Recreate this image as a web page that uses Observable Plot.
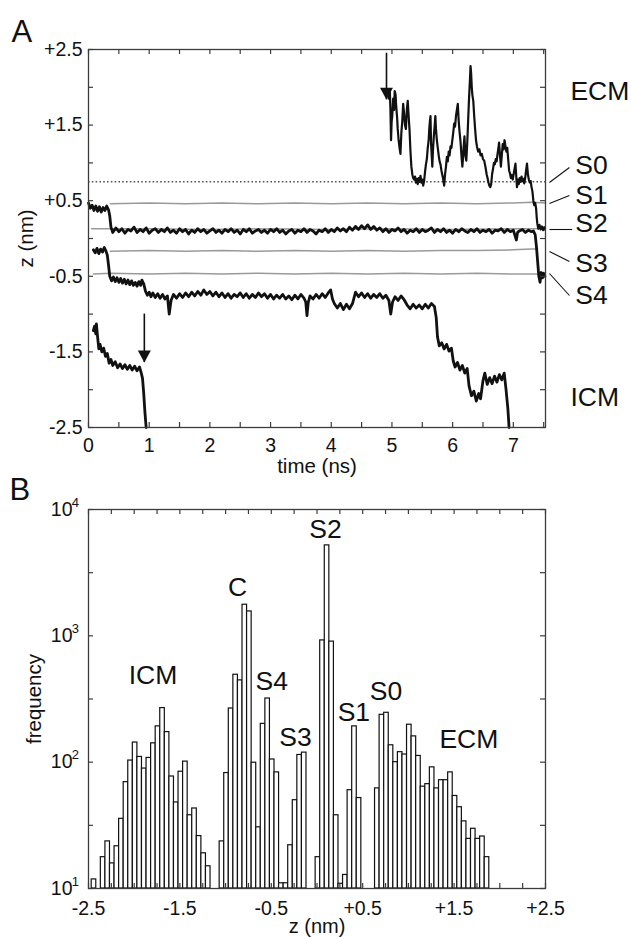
<!DOCTYPE html>
<html><head><meta charset="utf-8">
<script src="https://cdn.jsdelivr.net/npm/d3@7"></script>
<script src="https://cdn.jsdelivr.net/npm/@observablehq/plot@0.6"></script>
<style>
html,body{margin:0;padding:0;background:#fff;}
#wrap{position:relative;width:633px;height:937px;}
#wrap svg{position:absolute;left:0;overflow:visible;}
</style></head><body><div id="wrap"></div>
<script>
// ---------------- Panel A data ----------------
const aXTickValues = [0,1,2,3,4,5,6,7];
const aXMinorTicks = [0,0.5,1,1.5,2,2.5,3,3.5,4,4.5,5,5.5,6,6.5,7,7.5];
const aYTickValues = [2.5,1.5,0.5,-0.5,-1.5,-2.5];
const aYTickLabels = ["+2.5","+1.5","+0.5","-0.5","-1.5","-2.5"];
const aYMinorTicks = [2.5,2,1.5,1,0.5,0,-0.5,-1,-1.5,-2,-2.5];

// ion entering from the extracellular side (arrow at 4.9 ns)
const traceECM = [[4.95,1.85],[4.965,1.96],[4.975,1.70],[4.985,1.30],[4.995,1.55],[5.005,1.62],[5.02,1.85],[5.035,1.70],[5.045,1.95],[5.06,1.90],[5.07,1.75],[5.085,1.60],[5.095,1.45],[5.11,1.30],[5.125,1.20],[5.14,1.12],[5.155,1.40],[5.17,1.55],[5.185,1.78],[5.20,1.65],[5.215,1.50],[5.23,1.45],[5.245,1.70],[5.26,1.82],[5.275,1.62],[5.29,1.43],[5.305,1.15],[5.32,0.95],[5.335,0.85],[5.35,0.80],[5.365,0.78],[5.38,0.82],[5.395,0.74],[5.41,0.79],[5.425,0.72],[5.44,0.80],[5.455,0.75],[5.47,0.83],[5.485,0.74],[5.50,0.78],[5.515,0.70],[5.53,0.76],[5.545,0.88],[5.56,0.98],[5.575,1.05],[5.59,1.20],[5.605,1.30],[5.615,1.45],[5.625,1.55],[5.635,1.62],[5.645,1.25],[5.655,1.10],[5.665,0.95],[5.675,1.15],[5.69,1.35],[5.705,1.50],[5.715,1.62],[5.725,1.45],[5.74,1.30],[5.755,1.20],[5.77,1.10],[5.785,1.02],[5.80,0.98],[5.815,0.90],[5.83,0.84],[5.845,0.78],[5.86,0.70],[5.875,0.85],[5.89,0.95],[5.905,1.08],[5.92,1.02],[5.935,1.15],[5.95,1.10],[5.965,1.22],[5.98,1.20],[5.995,1.30],[6.01,1.40],[6.025,1.52],[6.04,1.48],[6.055,1.62],[6.07,1.70],[6.085,1.78],[6.10,1.55],[6.115,1.40],[6.13,1.28],[6.145,1.10],[6.16,0.95],[6.17,1.05],[6.18,1.20],[6.195,1.35],[6.21,1.10],[6.225,1.03],[6.24,1.25],[6.255,1.55],[6.27,1.85],[6.285,2.10],[6.295,2.28],[6.305,2.18],[6.315,2.00],[6.325,1.90],[6.34,1.82],[6.355,1.62],[6.37,1.45],[6.385,1.30],[6.40,1.22],[6.42,1.15],[6.44,1.18],[6.46,1.10],[6.48,1.12],[6.50,1.05],[6.52,1.03],[6.54,0.95],[6.56,0.85],[6.575,0.80],[6.59,0.74],[6.605,0.70],[6.62,0.68],[6.635,0.72],[6.65,0.85],[6.665,0.92],[6.68,1.00],[6.695,0.98],[6.71,1.05],[6.725,1.02],[6.74,1.12],[6.755,1.20],[6.765,1.27],[6.78,1.10],[6.795,0.95],[6.81,1.10],[6.825,1.25],[6.84,1.18],[6.855,1.30],[6.87,1.22],[6.885,1.15],[6.90,1.20],[6.915,1.05],[6.93,0.90],[6.945,0.86],[6.96,0.80],[6.975,0.84],[6.99,0.78],[7.005,0.85],[7.02,0.92],[7.035,0.99],[7.05,0.80],[7.06,0.68],[7.075,0.78],[7.09,0.72],[7.105,0.80],[7.12,0.75],[7.135,0.82],[7.15,0.76],[7.165,0.79],[7.18,0.73],[7.195,0.80],[7.21,0.90],[7.225,0.99],[7.24,0.85],[7.255,0.78],[7.27,0.74],[7.285,0.76],[7.30,0.68],[7.315,0.62],[7.33,0.50],[7.345,0.44],[7.36,0.47],[7.375,0.40],[7.385,0.28],[7.395,0.20],[7.41,0.13],[7.43,0.18],[7.45,0.12],[7.47,0.16],[7.49,0.11],[7.51,0.15],[7.52,0.12]];

// ion starting in S1, moving to S2 then S4
const traceS2 = [[0.00,0.47],[0.03,0.40],[0.06,0.44],[0.09,0.37],[0.12,0.43],[0.15,0.36],[0.18,0.42],[0.21,0.35],[0.24,0.41],[0.27,0.37],[0.30,0.43],[0.33,0.38],[0.35,0.30],[0.37,0.15],
[0.40,0.08],[0.45,0.14],[0.50,0.09],[0.55,0.13],[0.60,0.07],[0.65,0.12],[0.70,0.10],[0.75,0.15],[0.80,0.08],[0.85,0.12],
[0.90,0.09],[0.95,0.14],[1.00,0.07],[1.05,0.11],[1.10,0.13],[1.15,0.08],[1.20,0.12],[1.25,0.09],[1.30,0.14],[1.35,0.08],
[1.40,0.11],[1.45,0.07],[1.50,0.13],[1.55,0.09],[1.60,0.12],[1.65,0.06],[1.70,0.11],[1.75,0.08],[1.80,0.13],[1.85,0.09],
[1.90,0.12],[1.95,0.07],[2.00,0.10],[2.05,0.13],[2.10,0.08],[2.15,0.11],[2.20,0.07],[2.25,0.12],[2.30,0.09],[2.35,0.13],
[2.40,0.08],[2.45,0.11],[2.50,0.06],[2.55,0.12],[2.60,0.09],[2.65,0.13],[2.70,0.07],[2.75,0.10],[2.80,0.12],[2.85,0.08],
[2.90,0.11],[2.95,0.07],[3.00,0.12],[3.05,0.09],[3.10,0.13],[3.15,0.08],[3.20,0.11],[3.25,0.06],[3.30,0.10],[3.35,0.12],
[3.40,0.07],[3.45,0.11],[3.50,0.09],[3.55,0.13],[3.60,0.08],[3.65,0.12],[3.70,0.10],[3.75,0.06],[3.80,0.11],[3.85,0.09],
[3.90,0.13],[3.95,0.08],[4.00,0.12],[4.05,0.09],[4.10,0.14],[4.15,0.10],[4.20,0.13],[4.25,0.09],[4.30,0.15],[4.35,0.11],
[4.40,0.16],[4.45,0.12],[4.50,0.17],[4.55,0.13],[4.60,0.18],[4.65,0.12],[4.70,0.16],[4.75,0.11],[4.80,0.14],[4.85,0.09],
[4.90,0.13],[4.95,0.08],[5.00,0.12],[5.05,0.10],[5.10,0.14],[5.15,0.09],[5.20,0.12],[5.25,0.07],[5.30,0.11],[5.35,0.09],
[5.40,0.13],[5.45,0.08],[5.50,0.12],[5.55,0.09],[5.60,0.11],[5.65,0.14],[5.70,0.08],[5.75,0.12],[5.80,0.09],[5.85,0.13],
[5.90,0.08],[5.95,0.11],[6.00,0.07],[6.05,0.12],[6.10,0.09],[6.15,0.13],[6.20,0.10],[6.25,0.08],[6.30,0.12],[6.35,0.09],
[6.40,0.13],[6.45,0.08],[6.50,0.11],[6.55,0.09],[6.60,0.12],[6.65,0.07],[6.70,0.11],[6.75,0.10],[6.80,0.13],[6.85,0.08],
[6.90,0.12],[6.95,0.09],[7.00,0.11],[7.05,-0.02],[7.07,0.08],[7.10,0.10],[7.15,0.12],[7.20,0.08],[7.25,0.11],[7.30,0.09],[7.33,0.10],
[7.36,0.05],[7.38,-0.10],[7.40,-0.30],[7.42,-0.50],[7.44,-0.58],[7.46,-0.45],[7.48,-0.52],[7.50,-0.46],[7.52,-0.50]];

// ion starting in S3, moving to the cavity and to the intracellular side
const traceS3 = [[0.08,-0.15],[0.11,-0.19],[0.14,-0.13],[0.17,-0.20],[0.20,-0.14],[0.23,-0.18],[0.26,-0.12],[0.29,-0.17],[0.31,-0.22],[0.33,-0.35],[0.35,-0.50],[0.38,-0.56],[0.41,-0.51],[0.44,-0.57],[0.47,-0.52],[0.50,-0.58],[0.53,-0.53],[0.56,-0.59],[0.59,-0.54],[0.62,-0.60],[0.65,-0.55],[0.68,-0.61],[0.71,-0.56],[0.74,-0.62],[0.77,-0.58],[0.80,-0.63],[0.83,-0.57],[0.86,-0.62],[0.88,-0.55],[0.91,-0.60],[0.94,-0.70],[0.97,-0.75],[1.00,-0.71],[1.03,-0.77],[1.06,-0.72],[1.10,-0.78],[1.14,-0.73],[1.18,-0.79],[1.22,-0.74],[1.26,-0.80],[1.30,-0.76],[1.33,-1.00],[1.36,-0.82],[1.40,-0.74],[1.45,-0.79],[1.50,-0.73],[1.55,-0.78],[1.60,-0.72],[1.65,-0.77],[1.70,-0.71],[1.75,-0.76],[1.80,-0.70],[1.85,-0.75],[1.90,-0.68],[1.95,-0.74],[2.00,-0.70],[2.05,-0.76],[2.10,-0.71],[2.15,-0.77],[2.20,-0.72],[2.25,-0.78],[2.30,-0.73],[2.35,-0.79],[2.40,-0.74],[2.45,-0.77],[2.50,-0.72],[2.55,-0.78],[2.60,-0.73],[2.65,-0.79],[2.70,-0.74],[2.75,-0.78],[2.80,-0.72],[2.85,-0.77],[2.90,-0.73],[2.95,-0.79],[3.00,-0.74],[3.05,-0.80],[3.10,-0.75],[3.15,-0.79],[3.20,-0.74],[3.25,-0.80],[3.30,-0.76],[3.35,-0.81],[3.40,-0.75],[3.45,-0.80],[3.50,-0.74],[3.55,-0.79],[3.58,-0.84],[3.60,-1.02],[3.62,-0.85],[3.65,-0.76],[3.70,-0.80],[3.75,-0.74],[3.80,-0.79],[3.85,-0.73],[3.90,-0.78],[3.95,-0.72],[3.99,-0.68],[4.02,-0.80],[4.05,-0.86],[4.10,-0.92],[4.15,-0.86],[4.20,-0.94],[4.25,-0.87],[4.30,-0.93],[4.35,-0.86],[4.40,-0.71],[4.45,-0.77],[4.50,-0.72],[4.55,-0.78],[4.60,-0.73],[4.65,-0.79],[4.70,-0.74],[4.75,-0.78],[4.80,-0.73],[4.85,-0.79],[4.90,-0.75],[4.95,-0.82],[4.98,-1.00],[5.01,-0.84],[5.05,-0.77],[5.10,-0.82],[5.15,-0.76],[5.20,-0.81],[5.25,-0.88],[5.30,-0.93],[5.35,-0.87],[5.40,-0.92],[5.45,-0.88],[5.50,-0.93],[5.55,-0.87],[5.60,-0.92],[5.65,-0.86],[5.70,-0.90],[5.73,-1.05],[5.75,-1.30],[5.78,-1.42],[5.82,-1.38],[5.86,-1.46],[5.90,-1.40],[5.94,-1.49],[5.98,-1.45],[6.01,-1.62],[6.04,-1.70],[6.08,-1.64],[6.12,-1.74],[6.16,-1.68],[6.20,-1.78],[6.24,-1.72],[6.27,-1.95],[6.31,-2.08],[6.35,-2.02],[6.39,-2.15],[6.43,-2.05],[6.46,-2.12],[6.50,-1.88],[6.53,-1.78],[6.57,-1.93],[6.61,-1.84],[6.65,-1.92],[6.69,-1.82],[6.73,-1.90],[6.77,-1.80],[6.81,-1.87],[6.85,-1.78],[6.88,-2.00],[6.91,-2.25],[6.93,-2.50]];

// ion leaving to the intracellular side (arrow at 0.9 ns)
const traceICM = [[0.08,-1.22],[0.10,-1.16],[0.12,-1.26],[0.13,-1.13],[0.15,-1.30],[0.17,-1.46],[0.19,-1.40],[0.22,-1.50],[0.25,-1.45],[0.28,-1.56],[0.31,-1.52],[0.34,-1.65],[0.37,-1.60],[0.40,-1.68],[0.44,-1.63],[0.48,-1.71],[0.52,-1.66],[0.56,-1.72],[0.60,-1.67],[0.64,-1.73],[0.68,-1.68],[0.72,-1.74],[0.76,-1.69],[0.80,-1.75],[0.84,-1.70],[0.87,-1.78],[0.89,-1.85],[0.91,-2.05],[0.93,-2.30],[0.95,-2.50]];

// reference positions of the binding sites (gray)
const siteS1 = [[0.36,0.46],[1.0,0.47],[1.6,0.46],[2.2,0.47],[2.8,0.46],[3.4,0.47],[4.0,0.46],[4.6,0.47],[5.2,0.46],[5.8,0.47],[6.4,0.46],[7.0,0.47],[7.3,0.48],[7.53,0.47]];
const siteS2 = [[0.05,0.13],[1.0,0.13],[2.0,0.12],[3.0,0.13],[4.0,0.12],[5.0,0.13],[6.0,0.12],[7.0,0.13],[7.53,0.13]];
const siteS3 = [[0.36,-0.17],[1.0,-0.16],[1.6,-0.17],[2.2,-0.16],[2.8,-0.17],[3.4,-0.16],[4.0,-0.17],[4.6,-0.16],[5.2,-0.17],[5.8,-0.16],[6.4,-0.16],[7.0,-0.15],[7.3,-0.14],[7.4,-0.14]];
const siteS4 = [[0.08,-0.47],[0.36,-0.46],[1.0,-0.47],[1.6,-0.46],[2.2,-0.47],[2.8,-0.46],[3.4,-0.47],[4.0,-0.46],[4.6,-0.47],[5.2,-0.46],[5.8,-0.47],[6.4,-0.46],[7.0,-0.47],[7.53,-0.47]];
const siteS0Level = 0.75;

const arrowsA = [{t:0.92, z1:-1.0, z2:-1.64},{t:4.91, z1:2.45, z2:1.835}];
const siteLabelsA = [
  {name:"ECM", t:7.94, z:1.944},
  {name:"S0", t:8.02, z:0.972},
  {name:"S1", t:8.02, z:0.569},
  {name:"S2", t:8.02, z:0.198},
  {name:"S3", t:8.02, z:-0.331},
  {name:"S4", t:8.02, z:-0.754},
  {name:"ICM", t:7.94, z:-2.103}
];
const leadersA = [
  {t1:7.595, z1:0.741, t2:7.924, z2:0.94},
  {t1:7.595, z1:0.463, t2:7.924, z2:0.569},
  {t1:7.595, z1:0.119, t2:7.97, z2:0.119},
  {t1:7.595, z1:-0.172, t2:7.924, z2:-0.304},
  {t1:7.595, z1:-0.463, t2:7.924, z2:-0.754}
];

// ---------------- Panel B data ----------------
// [bin centre z (nm), frequency]
const histBins = [[-2.44,11.8],[-2.34,17.7],[-2.29,23.6],[-2.24,15.8],[-2.19,21.6],[-2.14,35.6],[-2.09,69.5],[-2.04,103],[-1.99,143],[-1.94,110],[-1.89,89],[-1.84,108],[-1.79,141],[-1.74,192],[-1.69,268],[-1.64,173],[-1.59,77],[-1.54,48],[-1.49,84],[-1.44,101],[-1.39,38],[-1.34,43],[-1.29,26],[-1.24,19],[-1.19,15],
[-1.04,23.6],[-0.99,82],[-0.94,266],[-0.89,492],[-0.84,444],[-0.79,1763],[-0.74,1560],[-0.69,99],[-0.64,30.5],[-0.59,201],[-0.54,319],[-0.49,105],[-0.44,83],[-0.39,11],[-0.34,11],[-0.29,22],[-0.24,50],[-0.19,114],[-0.14,119],
[0.01,17.7],[0.06,920],[0.11,5200],[0.16,900],[0.21,38],[0.26,10.9],[0.31,12.8],[0.36,60],[0.41,192],[0.46,52],
[0.66,62],[0.71,237],[0.76,246],[0.81,136],[0.86,100],[0.91,120],[0.96,115],[1.01,198],[1.06,160],[1.11,112],[1.16,64],[1.21,67],[1.26,91],[1.31,62],[1.36,72],[1.41,72],[1.46,83],[1.51,54],[1.56,44],[1.61,34],[1.66,24.7],[1.71,29.7],[1.76,24.7],[1.81,25.8],[1.86,17.7]];
const binWidth = 0.05;
const bXTickValues = [-2.5,-1.5,-0.5,0.5,1.5,2.5];
const bXTickLabels = ["-2.5","-1.5","-0.5","+0.5","+1.5","+2.5"];
const bXMinorTicks = [-2.5,-2.25,-2,-1.75,-1.5,-1.25,-1,-0.75,-0.5,-0.25,0,0.25,0.5,0.75,1,1.25,1.5,1.75,2,2.25,2.5];
const bYDecades = [10,100,1000,10000];
const bYMinorTicks = [10,31.62,100,316.2,1000,3162,10000];
const histLabels = [
  {name:"ICM", z:-1.794, f:485},
  {name:"C", z:-0.87, f:2415},
  {name:"S4", z:-0.496, f:436},
  {name:"S3", z:-0.235, f:156},
  {name:"S2", z:0.093, f:6950},
  {name:"S1", z:0.403, f:245},
  {name:"S0", z:0.755, f:360},
  {name:"ECM", z:1.661, f:150}
];

// ---------------- drawing ----------------
const FONT = '"Liberation Sans", Arial, Helvetica, sans-serif';
const INK = "#111";
const FRAME = "#3c3c3c";
const TICKFS = 19.5, TITLEFS = 20.5, BIGFS = 26.5, PANELFS = 31;
const W = 633;
const mA = {top:49, bottom:43, left:88, right:88}, hA = 470;
const mB = {top:39, bottom:49, left:88, right:88}, hB = 467;
const innerWA = W - mA.left - mA.right, innerHA = hA - mA.top - mA.bottom;
const innerWB = W - mB.left - mB.right, innerHB = hB - mB.top - mB.bottom;
const TL = 5; // tick length
const downTriangle = {draw(ctx){ ctx.moveTo(-6.5,-12); ctx.lineTo(6.5,-12); ctx.lineTo(0,0); ctx.closePath(); }};
const labelA = new Map(aYTickValues.map((v,i)=>[v,aYTickLabels[i]]));
const labelB = new Map(bXTickValues.map((v,i)=>[v,bXTickLabels[i]]));

const plotA = Plot.plot({
  width: W, height: hA,
  marginTop: mA.top, marginBottom: mA.bottom, marginLeft: mA.left, marginRight: mA.right,
  style: {fontFamily: FONT, color: INK, background: "transparent", overflow: "visible"},
  x: {domain: [0, 7.53]},
  y: {domain: [-2.5, 2.5]},
  marks: [
    Plot.ruleY([siteS0Level], {stroke: "#555", strokeWidth: 1.5, strokeDasharray: "1.6,2.2"}),
    Plot.line(siteS1, {x: d=>d[0], y: d=>d[1], stroke: "#9a9a9a", strokeWidth: 1.5}),
    Plot.line(siteS2, {x: d=>d[0], y: d=>d[1], stroke: "#9a9a9a", strokeWidth: 1.5}),
    Plot.line(siteS3, {x: d=>d[0], y: d=>d[1], stroke: "#9a9a9a", strokeWidth: 1.5}),
    Plot.line(siteS4, {x: d=>d[0], y: d=>d[1], stroke: "#9a9a9a", strokeWidth: 1.5}),
    Plot.line(traceS2, {x: d=>d[0], y: d=>d[1], stroke: INK, strokeWidth: 2.8}),
    Plot.line(traceS3, {x: d=>d[0], y: d=>d[1], stroke: INK, strokeWidth: 2.8}),
    Plot.line(traceICM, {x: d=>d[0], y: d=>d[1], stroke: INK, strokeWidth: 2.8}),
    Plot.line(traceECM, {x: d=>d[0], y: d=>d[1], stroke: INK, strokeWidth: 2.2}),
    Plot.ruleX(arrowsA, {x: "t", y1: "z1", y2: "z2", stroke: INK, strokeWidth: 1.6}),
    Plot.dot(arrowsA, {x: "t", y: "z2", symbol: downTriangle, fill: INK, stroke: "none"}),
    Plot.frame({stroke: FRAME, strokeWidth: 1.3}),
    Plot.tickX(aXMinorTicks, {x: d=>d, insetTop: innerHA - TL, stroke: FRAME, strokeWidth: 1.2}),
    Plot.tickX(aXMinorTicks, {x: d=>d, insetBottom: innerHA - TL, stroke: FRAME, strokeWidth: 1.2}),
    Plot.tickY(aYMinorTicks, {y: d=>d, insetRight: innerWA - TL, stroke: FRAME, strokeWidth: 1.2}),
    Plot.tickY(aYMinorTicks, {y: d=>d, insetLeft: innerWA - TL, stroke: FRAME, strokeWidth: 1.2}),
    Plot.axisX(aXTickValues, {anchor: "bottom", tickSize: 0, tickPadding: 11, fontSize: TICKFS, label: null, tickFormat: d=>String(d)}),
    Plot.axisY(aYTickValues, {anchor: "left", tickSize: 0, tickPadding: 6, fontSize: TICKFS, label: null, tickFormat: d=>labelA.get(d)}),
    Plot.text(["time (ns)"], {frameAnchor: "bottom", dy: 31, lineAnchor: "top", textAnchor: "middle", fontSize: TITLEFS}),
    Plot.text(["z (nm)"], {frameAnchor: "left", dx: -62, rotate: -90, textAnchor: "middle", fontSize: TITLEFS}),
    Plot.text(["A"], {frameAnchor: "top-left", dx: -77, dy: -30, textAnchor: "start", lineAnchor: "top", fontSize: PANELFS}),
    Plot.link(leadersA, {x1: "t1", y1: "z1", x2: "t2", y2: "z2", stroke: INK, strokeWidth: 1.1}),
    Plot.text(siteLabelsA, {x: "t", y: "z", text: "name", textAnchor: "start", fontSize: BIGFS, fill: INK})
  ]
});

const plotB = Plot.plot({
  width: W, height: hB,
  marginTop: mB.top, marginBottom: mB.bottom, marginLeft: mB.left, marginRight: mB.right,
  style: {fontFamily: FONT, color: INK, background: "transparent", overflow: "visible"},
  x: {domain: [-2.5, 2.5]},
  y: {type: "log", domain: [10, 10000], axis: null},
  marks: [
    Plot.rect(histBins, {x1: d=>d[0]-binWidth/2, x2: d=>d[0]+binWidth/2, y1: 10, y2: d=>d[1], fill: "white", stroke: INK, strokeWidth: 1.2}),
    Plot.frame({stroke: FRAME, strokeWidth: 1.3}),
    Plot.tickX(bXMinorTicks, {x: d=>d, insetTop: innerHB - TL, stroke: FRAME, strokeWidth: 1.2}),
    Plot.tickX(bXMinorTicks, {x: d=>d, insetBottom: innerHB - TL, stroke: FRAME, strokeWidth: 1.2}),
    Plot.tickY(bYMinorTicks, {y: d=>d, insetRight: innerWB - TL, stroke: FRAME, strokeWidth: 1.2}),
    Plot.tickY(bYMinorTicks, {y: d=>d, insetLeft: innerWB - TL, stroke: FRAME, strokeWidth: 1.2}),
    Plot.axisX(bXTickValues, {anchor: "bottom", tickSize: 0, tickPadding: 13, fontSize: TICKFS, label: null, tickFormat: d=>labelB.get(d)}),
    Plot.text(bYDecades, {y: d=>d, frameAnchor: "left", text: ()=>"10", textAnchor: "end", dx: -16, fontSize: TICKFS}),
    Plot.text(bYDecades, {y: d=>d, frameAnchor: "left", text: d=>String(Math.round(Math.log10(d))), textAnchor: "end", dx: -9.5, dy: -7, fontSize: 13}),
    Plot.text(["z (nm)"], {frameAnchor: "bottom", dy: 30, lineAnchor: "top", textAnchor: "middle", fontSize: TITLEFS - 0.5}),
    Plot.text(["frequency"], {frameAnchor: "left", dx: -54, rotate: -90, textAnchor: "middle", fontSize: TITLEFS}),
    Plot.text(["B"], {frameAnchor: "top-left", dx: -79, dy: -32, textAnchor: "start", lineAnchor: "top", fontSize: PANELFS}),
    Plot.text(histLabels, {x: "z", y: "f", text: "name", fontSize: BIGFS, fill: INK})
  ]
});

const wrap = document.getElementById("wrap");
plotA.style.top = "0px";
plotB.style.top = hA + "px";
wrap.appendChild(plotA);
wrap.appendChild(plotB);
</script></body></html>
